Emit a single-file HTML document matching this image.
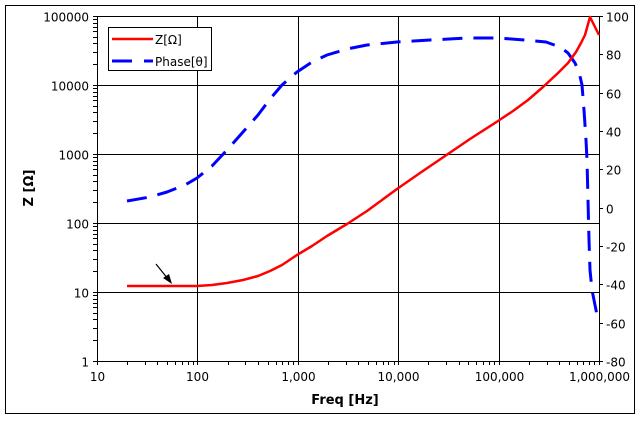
<!DOCTYPE html><html><head><style>body{margin:0;background:#fff}svg text{font-family:"DejaVu Sans","Liberation Sans",sans-serif;font-size:12px;fill:#000}</style></head><body>
<svg width="641" height="420" xmlns="http://www.w3.org/2000/svg">
<rect x="5.5" y="5.5" width="629" height="408" fill="#fff" stroke="#000"/>
<g id="g" stroke="#000" stroke-width="1"></g>
<polyline fill="none" stroke="#00f" stroke-width="3" stroke-dasharray="20,11" stroke-linejoin="round" points="127,201 150,197 167,192 185,185 197,178 212,166 227,150 243,132 258,115 270,99 282,85 297,72 312,62 327,55 347,49 367,45 397,42 430,40 467,38 498,38 525,40 546,42 560,47 568,53 575,63 579,72 582,85 584,110 586,140 587,160 588,200 589,240 590,270 592,290 595,305 598,320"/>
<polyline fill="none" stroke="#f00" stroke-width="2.5" stroke-linejoin="round" points="127,286 197,286 212,285 227,283 243,280 258,276 270,271 282,265 297,255 312,246 327,236 347,224 367,211 397,189 420,173 445,156 470,139 498,121 513,111 528,100 543,87 558,73 568,63 576,52 581,43 585,35 590,17 599,35"/>
<line x1="156" y1="264" x2="168" y2="279" stroke="#000" stroke-width="1.2"/>
<polygon points="172,284 163,278 169,274" fill="#000"/>
<rect x="108.5" y="27.5" width="103" height="43" fill="#fff" stroke="#000"/>
<line x1="112" y1="39" x2="153" y2="39" stroke="#f00" stroke-width="2.5"/>
<line x1="112" y1="61" x2="153" y2="61" stroke="#00f" stroke-width="3" stroke-dasharray="20,12"/>
<text x="155" y="44">Z[Ω]</text><text x="155" y="66">Phase[θ]</text>
<text x="28" y="193" transform="rotate(-90 28 188)" style="font-weight:bold;font-size:13px" text-anchor="middle">Z [Ω]</text>
<text x="345" y="404" style="font-weight:bold;font-size:13px" text-anchor="middle">Freq [Hz]</text>
</svg>
<script>
var g=document.getElementById('g'),s='',L=97,R=599,T=16,B=361;
function ln(a,b,c,d){s+='<line x1="'+a+'" y1="'+b+'" x2="'+c+'" y2="'+d+'"/>';}
function tx(x,y,t,a){s+='<text x="'+x+'" y="'+y+'" text-anchor="'+a+'" stroke="none">'+t+'</text>';}
var xl=['10','100','1,000','10,000','100,000','1,000,000'];
for(var i=0;i<6;i++){var x=Math.round(L+i*100.4)+.5;ln(x,T,x,B+4);tx(x,B+20,xl[i],'middle');
 if(i<5)for(var k=2;k<10;k++){var xx=Math.round(L+(i+Math.log10(k))*100.4)+.5;ln(xx,B,xx,B+4);}}
var yl=['1','10','100','1000','10000','100000'];
for(var i=0;i<6;i++){var y=Math.round(B-i*69)+.5;ln(L-4,y,R,y);tx(L-8,y+5,yl[i],'end');
 if(i<5)for(var k=2;k<10;k++){var yy=Math.round(B-(i+Math.log10(k))*69)+.5;ln(L-4,yy,L,yy);}}
for(var i=0;i<10;i++){var y=Math.round(B-i*38.33)+.5;ln(R,y,R+4,y);tx(R+7,y+5,String(-80+20*i),'start');}
g.innerHTML=s;
</script>
</body></html>
